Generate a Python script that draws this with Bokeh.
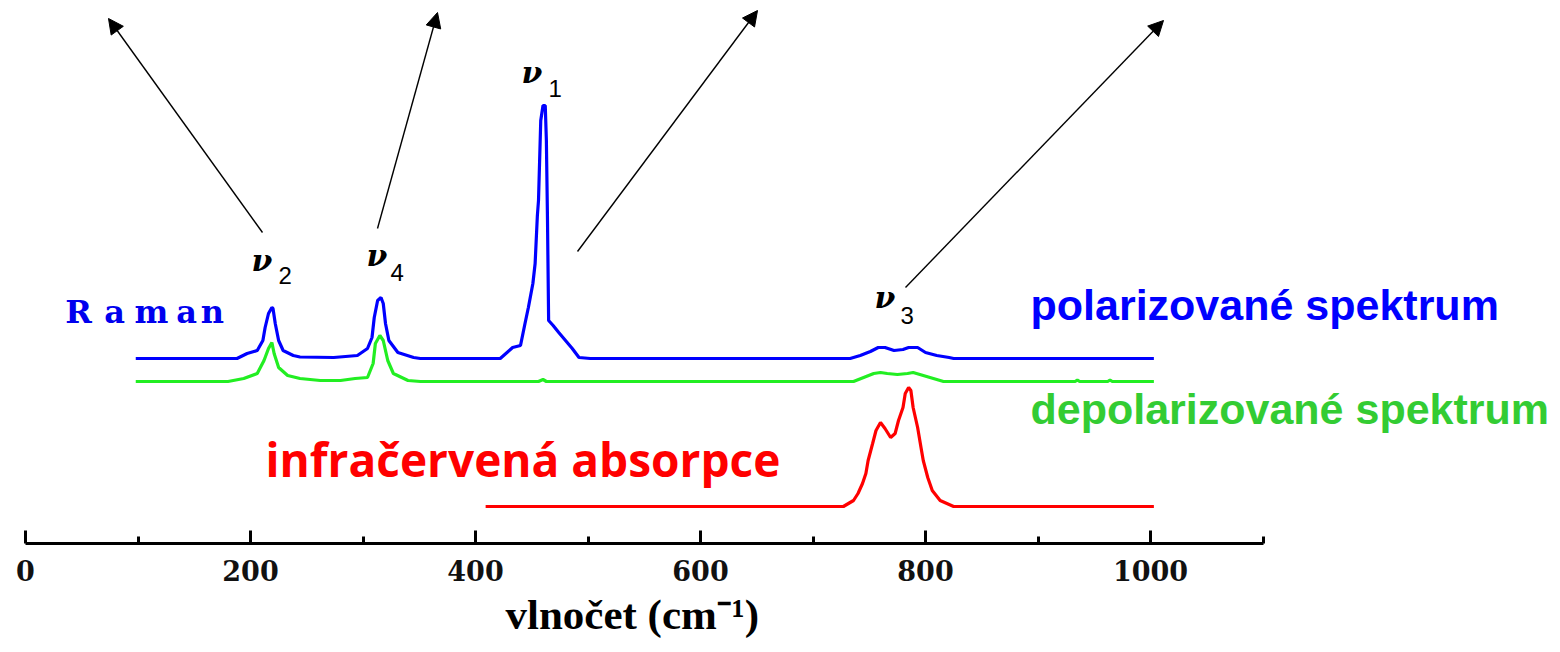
from bokeh.plotting import figure
from bokeh.models import Range1d, FixedTicker, Label, Arrow, NormalHead, Title
from bokeh.embed import file_html
from bokeh.resources import INLINE

# ---------------- data (wavenumber in cm^-1, intensity in arbitrary units) ----------------
polarized_wn = [98, 188, 197, 206, 211, 213, 216, 219, 220, 222, 225, 229, 238, 244, 274,
                295, 304, 308, 310, 313, 316, 318, 320, 323, 331, 345, 351,
                422, 433, 440, 444, 447, 451, 453, 455, 456, 458, 460, 462, 463, 464, 465,
                469, 474, 480, 486, 492, 502,
                733, 742, 751, 758, 764, 772, 780, 785, 793, 800, 810, 821, 825, 1003]
polarized_int = [0, 0, 5, 8, 18, 31, 45, 51, 50, 35, 18, 8, 3, 1.5, 1,
                 3, 10, 21, 41, 58, 61, 55, 35, 18, 6, 1, 0,
                 0, 11, 13, 35, 51, 75, 95, 143, 158, 238, 253, 253, 218, 138, 38,
                 33, 26, 18, 10, 1, 0,
                 0, 3, 7, 11, 11, 8, 9, 11, 11, 6, 3, 1, 0, 0]

depolarized_wn = [98, 180, 194, 206, 212, 216, 219, 221, 225, 233, 244, 262, 280,
                  293, 304, 309, 311, 315, 318, 322, 327, 340, 351,
                  456, 460, 463,
                  736, 745, 754, 760, 766, 775, 784, 789, 798, 807, 816,
                  933, 935, 937, 962, 964, 966, 1003]
depolarized_int = [0, 0, 3, 8, 21, 33, 39, 28, 14, 6, 3, 1, 1,
                   3, 4, 18, 38, 46, 41, 21, 8, 1, 0,
                   0, 2, 0,
                   0, 4, 8, 9, 8, 7, 8, 9, 6, 3, 0,
                   0, 1.5, 0, 0, 1.5, 0, 0]

infrared_wn = [409, 727, 736, 740, 744, 747, 749, 753, 756, 760, 764, 769, 773, 776, 780,
               782, 785, 787, 789, 793, 796, 798, 802, 806, 813, 825, 1003]
infrared_int = [0, 0, 6, 13, 23, 33, 46, 63, 76, 84, 78, 69, 73, 86, 99,
                113, 119, 116, 99, 79, 59, 46, 29, 16, 6, 0, 0]

x_major_ticks = [0, 200, 400, 600, 800, 1000]
x_minor_ticks = [100, 300, 500, 700, 900, 1100]

band_names = ["1", "2", "3", "4"]

# ---------------- layout helpers (screen pixel -> data) ----------------
W, H = 1560, 652
FRAME_H = 543
PX0, PXU = 25.0, 1.125          # pixel of 0 cm^-1, pixels per cm^-1


def X(px):
    return (px - PX0) / PXU


def Y(py):
    return FRAME_H - py


BLUE_BASE = Y(358)
GREEN_BASE = Y(381)
RED_BASE = Y(506)

p = figure(width=W, height=H, output_backend="svg", toolbar_location=None,
           x_range=Range1d(X(0), X(W)), y_range=Range1d(0, FRAME_H),
           y_axis_location=None, min_border_left=0, min_border_right=0,
           min_border_top=0, min_border_bottom=H - FRAME_H)
p.outline_line_color = None
p.grid.visible = False
p.background_fill_color = "white"
p.border_fill_color = "white"

# spectra
p.line(polarized_wn, [v + BLUE_BASE for v in polarized_int], line_color="#0000ff", line_width=3.2)
p.line(depolarized_wn, [v + GREEN_BASE for v in depolarized_int], line_color="#22ee22", line_width=3.2)
p.line(infrared_wn, [v + RED_BASE for v in infrared_int], line_color="#ff0000", line_width=3.2)

# x axis
ax = p.xaxis[0]
ax.ticker = FixedTicker(ticks=x_major_ticks, minor_ticks=x_minor_ticks)
ax.bounds = (0, 1100)
ax.axis_line_width = 3
ax.axis_line_color = "black"
ax.major_tick_in = 13
ax.major_tick_out = 0
ax.minor_tick_in = 7
ax.minor_tick_out = 0
ax.major_tick_line_width = 3
ax.minor_tick_line_width = 3
ax.major_label_text_font = "DejaVu Serif"
ax.major_label_text_font_style = "bold"
ax.major_label_text_font_size = "27px"
ax.major_label_text_color = "#111111"
ax.major_label_standoff = 16

# axis title placed as a title below the axis (left offset for exact placement)
p.add_layout(Title(text="vlnočet (cm⁻¹)", align="left", offset=505, standoff=11,
                   text_font="Liberation Serif", text_font_style="bold",
                   text_font_size="43px", text_color="black"), "below")


def label(text, px, py, size, color="black", font="Liberation Sans", style="bold", align="left"):
    # py = desired alphabetic baseline in screen pixels
    p.add_layout(Label(x=X(px), y=Y(py - 0.42 * size), text=text, text_font=font,
                       text_font_style=style, text_font_size=f"{size}px", text_color=color,
                       text_align=align, text_baseline="alphabetic"))


# Raman (wide letters)
for ch, cx in zip("Raman", [78, 114, 151, 186, 212]):
    label(ch, cx, 325, 32, color="#0000ee", font="DejaVu Serif", align="center")

label("polarizované spektrum", 1030, 323, 43, color="#0000ff")
label("depolarizované spektrum", 1030, 427, 43, color="#33cc33")
label("infračervená absorpce", 265, 478, 46, color="#ff0000", font="Open Sans")

# band labels ν with subscripts
nu_pos = {"2": (251, 273, 278, 285), "4": (366, 268, 390, 282),
          "1": (521, 85, 548, 98), "3": (874, 310, 900, 325)}
for name in band_names:
    nx, ny, sx, sy = nu_pos[name]
    label("ν", nx, ny, 30, font="DejaVu Serif", style="bold italic")
    label(name, sx, sy, 24, font="Liberation Sans", style="normal")

# arrows
arrow_start = [(262, 232), (377, 228), (577, 251), (905, 287)]
arrow_end = [(108, 18), (437, 12), (757, 10), (1163, 20)]
for (sx, sy), (ex, ey) in zip(arrow_start, arrow_end):
    p.add_layout(Arrow(x_start=X(sx), y_start=Y(sy), x_end=X(ex), y_end=Y(ey),
                       line_color="black", line_width=1.4,
                       end=NormalHead(size=15, fill_color="black", line_color="black")))

open("out.html", "w").write(file_html(p, INLINE))
